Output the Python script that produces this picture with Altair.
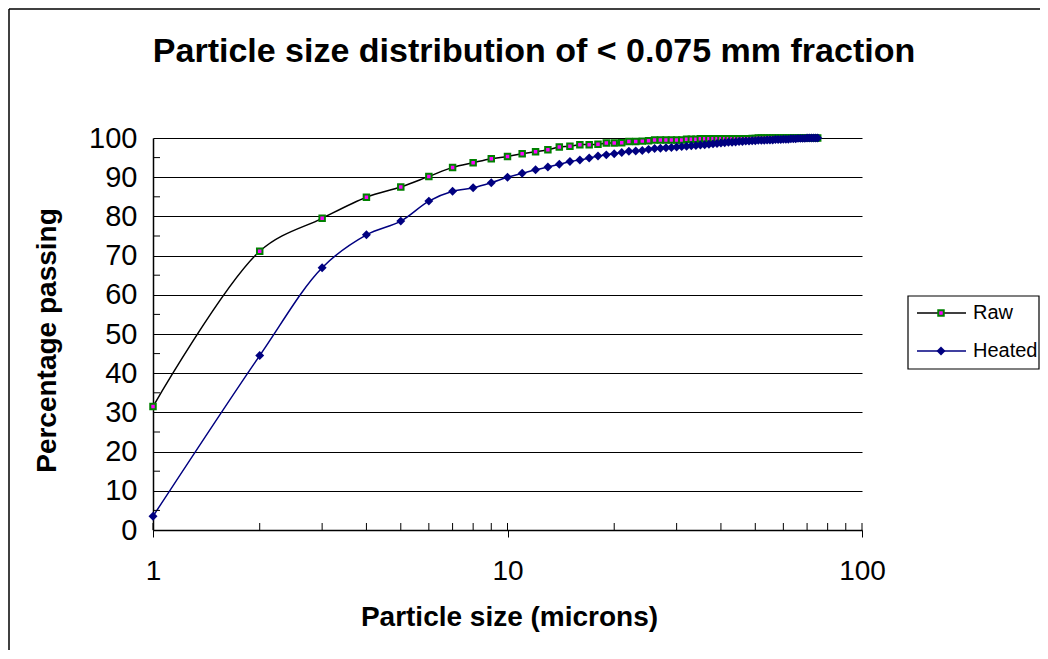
import altair as alt
import pandas as pd

title_text = "Particle size distribution of < 0.075 mm fraction"
x_title = "Particle size (microns)"
y_title = "Percentage passing"
series_names = ["Raw", "Heated"]

sizes = [1, 2, 3, 4, 5, 6, 7, 8, 9, 10, 11, 12, 13, 14, 15, 16, 17, 18, 19, 20,
         21, 22, 23, 24, 25, 26, 27, 28, 29, 30, 31, 32, 33, 34, 35, 36, 37, 38, 39, 40,
         41, 42, 43, 44, 45, 46, 47, 48, 49, 50, 51, 52, 53, 54, 55, 56, 57, 58, 59, 60,
         61, 62, 63, 64, 65, 66, 67, 68, 69, 70, 71, 72, 73, 74, 75]

raw = [31.5, 71.1, 79.5, 84.9, 87.5, 90.2, 92.5, 93.7, 94.7, 95.3,
       96.0, 96.5, 97.0, 97.7, 97.9, 98.3, 98.3, 98.4, 98.7, 98.7,
       98.8, 99.1, 99.1, 99.2, 99.3, 99.5, 99.5, 99.5, 99.5, 99.5,
       99.5, 99.7, 99.7, 99.7, 99.8, 99.8, 99.8, 99.8, 99.8, 99.8,
       99.8, 99.8, 99.8, 99.8, 99.8, 99.8, 99.8, 99.8, 99.9, 99.9,
       100, 100, 100, 100, 100, 100, 100, 100, 100, 100,
       100, 100, 100, 100, 100, 100, 100, 100, 100, 100,
       100, 100, 100, 100, 100]

heated = [3.5, 44.5, 66.9, 75.3, 78.8, 83.9, 86.4, 87.3, 88.6, 90.0,
          91.0, 91.9, 92.6, 93.3, 94.0, 94.4, 94.9, 95.4, 95.7, 96.0,
          96.3, 96.6, 96.7, 96.8, 97.1, 97.3, 97.4, 97.5, 97.6, 97.7,
          97.8, 97.9, 98.0, 98.1, 98.2, 98.3, 98.4, 98.5, 98.6, 98.7,
          98.8, 98.9, 98.9, 99.0, 99.1, 99.1, 99.2, 99.2, 99.3, 99.3,
          99.4, 99.4, 99.4, 99.5, 99.5, 99.5, 99.6, 99.6, 99.6, 99.7,
          99.7, 99.7, 99.8, 99.8, 99.8, 99.9, 99.9, 99.9, 99.9, 100,
          100, 100, 100, 100, 100]

x_major = [1, 10, 100]
x_minor = [1, 2, 3, 4, 5, 6, 7, 8, 9, 10, 20, 30, 40, 50, 60, 70, 80, 90, 100]
y_major = [0, 10, 20, 30, 40, 50, 60, 70, 80, 90, 100]
y_minor = [5, 15, 25, 35, 45, 55, 65, 75, 85, 95]

FONT = "Liberation Sans"
W, H = 709, 392

df_raw = pd.DataFrame({"size": sizes, "pct": raw, "series": series_names[0]})
df_heat = pd.DataFrame({"size": sizes, "pct": heated, "series": series_names[1]})

xscale = alt.Scale(type="log", domain=[1, 100], nice=False)
yscale = alt.Scale(domain=[0, 100], nice=False)

x_axis = alt.Axis(values=x_major, format="d", title=x_title,
                  titleX=356, titleY=87, titleFont=FONT, titleFontSize=28,
                  titleFontWeight="bold", titleColor="black",
                  titleBaseline="middle", titleAlign="center",
                  labelFont=FONT, labelFontSize=28, labelColor="black",
                  labelBaseline="middle", labelPadding=34, labelOverlap=False,
                  tickSize=7, tickColor="black", domainColor="black",
                  domainWidth=1.5, grid=False, labelFlush=False)
y_axis = alt.Axis(values=y_major, title=y_title, tickCount=11,
                  titleX=-106, titleY=202, titleAngle=270,
                  titleFont=FONT, titleFontSize=28, titleFontWeight="bold",
                  titleColor="black", titleBaseline="middle", titleAlign="center",
                  labelFont=FONT, labelFontSize=29, labelColor="black",
                  labelPadding=16, labelOverlap=False, ticks=False,
                  domainColor="black", domainWidth=1.5, grid=True,
                  gridColor="black", gridWidth=1, gridOpacity=1,
                  labelFlush=False)

x_enc = alt.X("size:Q", scale=xscale, axis=x_axis)
y_enc = alt.Y("pct:Q", scale=yscale, axis=y_axis)

raw_line = alt.Chart(df_raw).mark_line(color="black", strokeWidth=1.5,
                                        interpolate="catmull-rom").encode(x=x_enc, y=y_enc)
raw_pts = alt.Chart(df_raw).mark_point(shape="square", size=30, filled=True,
                                        fill="#FF00FF", stroke="#008000",
                                        strokeWidth=2, opacity=1).encode(x=x_enc, y=y_enc)
heat_line = alt.Chart(df_heat).mark_line(color="#000080", strokeWidth=1.5,
                                          interpolate="catmull-rom").encode(x=x_enc, y=y_enc)
heat_pts = alt.Chart(df_heat).mark_point(shape="diamond", size=80, filled=True,
                                          fill="#000080", strokeWidth=0,
                                          opacity=1).encode(x=x_enc, y=y_enc)

# minor ticks
xminor = alt.Chart(pd.DataFrame({"size": x_minor})).mark_rule(color="black", strokeWidth=1).encode(
    x=x_enc, y=alt.value(H - 7), y2=alt.value(H))
yminor = alt.Chart(pd.DataFrame({"pct": y_minor})).mark_rule(color="black", strokeWidth=1).encode(
    y=y_enc, x=alt.value(0), x2=alt.value(7))

# title
title = alt.Chart(pd.DataFrame({"t": [title_text]})).mark_text(
    font=FONT, fontSize=34, fontWeight="bold", color="black",
    align="center", baseline="middle").encode(
    text="t:N", x=alt.value(381), y=alt.value(-86))

# outer chart border (left/top)
border_l = alt.Chart(pd.DataFrame({"a": [0]})).mark_rule(color="black", strokeWidth=1.5).encode(
    x=alt.value(-144), y=alt.value(-129), y2=alt.value(H + 130))
border_t = alt.Chart(pd.DataFrame({"a": [0]})).mark_rule(color="black", strokeWidth=1.5).encode(
    y=alt.value(-129), x=alt.value(-144), x2=alt.value(W + 180))

# legend
leg_box = alt.Chart(pd.DataFrame({"a": [0]})).mark_rect(
    fill="white", stroke="black", strokeWidth=1.2).encode(
    x=alt.value(755), x2=alt.value(886), y=alt.value(158), y2=alt.value(231))
leg_df = pd.DataFrame({"s": series_names})
leg_raw_line = alt.Chart(leg_df.iloc[[0]]).mark_rule(color="black", strokeWidth=1.5).encode(
    x=alt.value(764), x2=alt.value(813), y=alt.value(175))
leg_raw_pt = alt.Chart(leg_df.iloc[[0]]).mark_point(
    shape="square", size=30, filled=True, fill="#FF00FF", stroke="#008000",
    strokeWidth=2, opacity=1).encode(x=alt.value(788), y=alt.value(175))
leg_raw_txt = alt.Chart(leg_df.iloc[[0]]).mark_text(
    font=FONT, fontSize=20, align="left", baseline="middle", color="black").encode(
    text="s:N", x=alt.value(820), y=alt.value(175))
leg_h_line = alt.Chart(leg_df.iloc[[1]]).mark_rule(color="#000080", strokeWidth=1.5).encode(
    x=alt.value(764), x2=alt.value(813), y=alt.value(213))
leg_h_pt = alt.Chart(leg_df.iloc[[1]]).mark_point(
    shape="diamond", size=80, filled=True, fill="#000080", strokeWidth=0,
    opacity=1).encode(x=alt.value(788), y=alt.value(213))
leg_h_txt = alt.Chart(leg_df.iloc[[1]]).mark_text(
    font=FONT, fontSize=20, align="left", baseline="middle", color="black").encode(
    text="s:N", x=alt.value(820), y=alt.value(213))

chart = alt.layer(
    border_l, border_t, title,
    raw_line, heat_line, xminor, yminor, raw_pts, heat_pts,
    leg_box, leg_raw_line, leg_raw_pt, leg_raw_txt, leg_h_line, leg_h_pt, leg_h_txt,
).properties(
    width=W, height=H,
    autosize=alt.AutoSizeParams(type="none"),
    padding={"left": 145, "top": 130, "right": 178, "bottom": 120},
    background="white",
).configure_view(stroke="transparent")

chart.save("out.html", embed_options={"renderer": "svg", "actions": False})
